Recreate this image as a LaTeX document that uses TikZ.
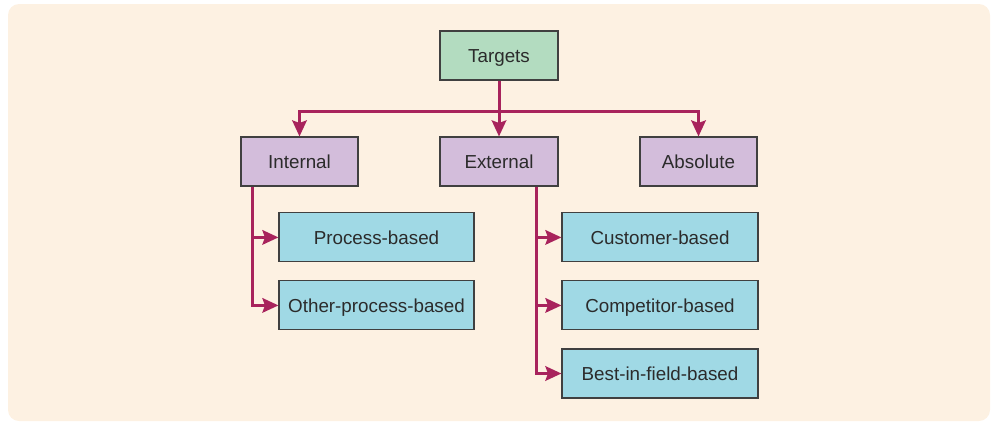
\documentclass[tikz,border=0pt]{standalone}
\usepackage{fontspec}
\setmainfont{Liberation Sans}
\usetikzlibrary{arrows.meta}
\definecolor{bgcream}{HTML}{FDF1E2}
\definecolor{topgreen}{HTML}{B3DCC0}
\definecolor{midlilac}{HTML}{D3BDDB}
\definecolor{leafcyan}{HTML}{A0D9E5}
\definecolor{linkred}{HTML}{A8235C}
\definecolor{inkgrey}{HTML}{2B2B2B}
\tikzset{
  box/.style={draw=inkgrey!90, line width=1.1pt, rectangle, minimum height=49pt,
    text=inkgrey, font=\fontsize{18.8}{22}\selectfont, inner sep=0pt,
    text height=17pt, text depth=3.8pt},
  topbox/.style={box, fill=topgreen, minimum width=118pt},
  midbox/.style={box, fill=midlilac, minimum width=117pt},
  leafbox/.style={box, fill=leafcyan, minimum width=195pt},
  conn/.style={draw=linkred, line width=3pt,
    -{Stealth[length=16pt,width=14.5pt,inset=2.5pt]}}
}
\begin{document}
\begin{tikzpicture}[x=1pt,y=-1pt]
\useasboundingbox (0,0) rectangle (992,421);
\fill[bgcream, rounded corners=11pt] (8,4) rectangle (990,421);

\node[topbox] (targets) at (499,55.5) {Targets};
\node[midbox] (internal) at (299.5,161.5) {Internal};
\node[midbox, minimum width=118pt] (external) at (499,161.5) {External};
\node[midbox] (absolute) at (698.5,161.5) {Absolute};

\node[leafbox] (process) at (376.5,237.4) {Process-based};
\node[leafbox] (other) at (376.5,305.4) {Other-process-based};
\node[leafbox, minimum width=196pt] (customer) at (660,237.4) {Customer-based};
\node[leafbox, minimum width=196pt] (competitor) at (660,305.4) {Competitor-based};
\node[leafbox, minimum width=196pt] (best) at (660,373.5) {Best-in-field-based};

% first level split, below the top box
\coordinate (split) at ([yshift=-30.7pt]targets.south);
\draw[conn] (targets.south) -- (external.north);
\draw[conn] (split) -| (internal.north);
\draw[conn] (split) -| (absolute.north);

% internal branch
\coordinate (intdrop) at ([xshift=11.7pt]internal.south west);
\draw[conn] (intdrop) |- (other.west);
\draw[conn] (intdrop) |- (process.west);

% external branch
\coordinate (extdrop) at ([xshift=-22.3pt]external.south east);
\draw[conn] (extdrop) |- (best.west);
\draw[conn] (extdrop) |- (competitor.west);
\draw[conn] (extdrop) |- (customer.west);
\end{tikzpicture}
\end{document}
